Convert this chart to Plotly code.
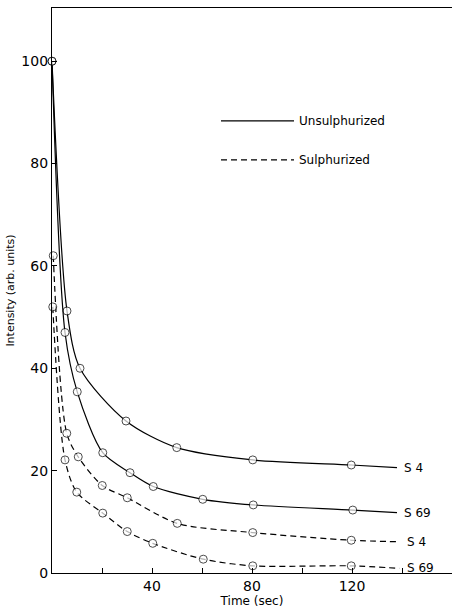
import plotly.graph_objects as go

# ---- data ----
un_s4_t = [0, 6.0, 11.2, 29.6, 49.9, 80.3, 119.7, 138]
un_s4_i = [100, 51.2, 40.0, 29.7, 24.5, 22.1, 21.1, 20.6]

un_s69_t = [0, 5.2, 10.1, 20.3, 31.2, 40.5, 60.3, 80.5, 120.3, 138]
un_s69_i = [100, 47.0, 35.4, 23.5, 19.6, 16.9, 14.4, 13.3, 12.3, 11.8]

su_s4_t = [0.5, 5.9, 10.5, 20.1, 30.1, 50.1, 80.3, 119.7, 139]
su_s4_i = [62, 27.3, 22.7, 17.1, 14.7, 9.7, 7.9, 6.4, 6.1]

su_s69_t = [0.3, 5.2, 9.9, 20.3, 30.1, 40.3, 60.5, 80.3, 119.7, 139]
su_s69_i = [52, 22.1, 15.8, 11.7, 8.1, 5.8, 2.7, 1.4, 1.4, 0.9]

series_labels = ["S 4", "S 69", "S 4", "S 69"]
legend_names = ["Unsulphurized", "Sulphurized"]

x_tick_vals = [20, 40, 60, 80, 100, 120, 140]
x_tick_text = ["", "40", "", "80", "", "120", ""]
y_tick_vals = [0, 20, 40, 60, 80, 100]
y_tick_text = ["0", "20", "40", "60", "80", "100"]

FONT = "DejaVu Sans"
fig = go.Figure()

series = [
    (un_s4_t, un_s4_i, "solid", series_labels[0]),
    (un_s69_t, un_s69_i, "solid", series_labels[1]),
    (su_s4_t, su_s4_i, "6px,4px", series_labels[2]),
    (su_s69_t, su_s69_i, "6px,4px", series_labels[3]),
]

for t, i, dash, lab in series:
    sizes = [8] * (len(t) - 1) + [0]
    fig.add_trace(go.Scatter(
        x=t, y=i, mode="lines+markers",
        line=dict(color="black", width=1.2, dash=dash, shape="spline", smoothing=0.8),
        marker=dict(symbol="circle", size=sizes, color="white",
                    line=dict(color="black", width=1.0)),
        showlegend=False, hoverinfo="skip", cliponaxis=False,
    ))
    fig.add_annotation(x=t[-1], y=i[-1], text=lab, showarrow=False,
                       xanchor="left", yanchor="middle", xshift=5,
                       font=dict(family=FONT, size=12, color="black"))

# legend-only traces
for name, dash, grp in [(legend_names[0], "solid", "a"), (legend_names[1], "6px,4px", "b")]:
    fig.add_trace(go.Scatter(
        x=[None], y=[None], mode="lines", name=name, legendgroup=grp,
        line=dict(color="black", width=1.2, dash=dash),
    ))

fig.update_layout(
    width=452, height=610,
    margin=dict(l=52, r=0, t=8, b=37),
    paper_bgcolor="white", plot_bgcolor="white",
    font=dict(family=FONT, size=14, color="black"),
    showlegend=True,
    hovermode=False,
    legend=dict(x=0.41, y=0.826, xanchor="left", yanchor="top",
                bgcolor="rgba(0,0,0,0)", itemwidth=73, tracegroupgap=20,
                font=dict(family=FONT, size=12, color="black")),
    xaxis=dict(range=[0, 160], showgrid=False, zeroline=False,
               showline=True, linecolor="black", linewidth=1.2, mirror=True,
               ticks="inside", ticklen=5, tickcolor="black", tickwidth=1,
               tickvals=x_tick_vals, ticktext=x_tick_text,
               tickfont=dict(size=14),
               title=dict(text="Time (sec)", font=dict(size=12), standoff=2)),
    yaxis=dict(range=[0, 110.4], showgrid=False, zeroline=False,
               showline=True, linecolor="black", linewidth=1.2,
               ticks="inside", ticklen=5, tickcolor="black", tickwidth=1,
               tickvals=y_tick_vals, ticktext=y_tick_text,
               tickfont=dict(size=14),
               title=dict(text="Intensity (arb. units)", font=dict(size=11), standoff=4)),
)

fig.write_html("out.html", config={"displayModeBar": False},
               post_script="document.body.style.margin='0px';document.body.style.overflow='hidden';")
